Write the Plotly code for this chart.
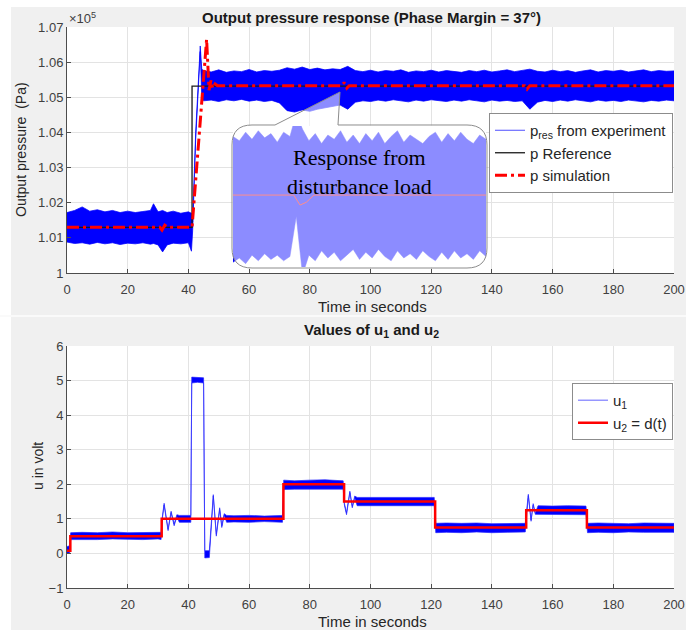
import plotly.graph_objects as go

# ---------------- data: top panel (pressure, in units of 1e5 Pa) ----------------
time_ticks = [0, 20, 40, 60, 80, 100, 120, 140, 160, 180, 200]
p_ticks = [1.00, 1.01, 1.02, 1.03, 1.04, 1.05, 1.06, 1.07]
p_tick_labels = ["1", "1.01", "1.02", "1.03", "1.04", "1.05", "1.06", "1.07"]

# experimental pressure: upper / lower envelope of the noisy band
pexp_t = [0, 2.5, 5, 7.5, 10, 12.5, 15, 17.5, 20, 22.5,
          25, 27.5, 28.5, 30, 31.5, 33, 35, 37.5, 40, 41.0,
          41.4, 42.4, 43.9, 44.4,
          45, 47.5, 50, 52.5, 55, 57.5, 60, 62.5, 65, 67.5,
          70, 72.5, 75, 77.5, 80, 82.5, 85, 87.5, 90, 92.5,
          95, 97.5, 100, 102.5, 105, 107.5, 110, 112.5, 115, 117.5,
          120, 122.5, 125, 127.5, 130, 132.5, 135, 137.5, 140, 142.5,
          145, 147.5, 150, 152.5, 155, 157.5, 160, 162.5, 165, 167.5,
          170, 172.5, 175, 177.5, 180, 182.5, 185, 187.5, 190, 192.5,
          195, 197.5, 200]
pexp_hi = [1.0172, 1.0178, 1.0188, 1.0176, 1.0180, 1.0174, 1.0178, 1.0172, 1.0176, 1.0172,
           1.0175, 1.0178, 1.0197, 1.0174, 1.0178, 1.0172, 1.0176, 1.0170, 1.0174, 1.0170,
           1.0145, 1.0400, 1.0646, 1.0580,
           1.0576, 1.0572, 1.0578, 1.0571, 1.0575, 1.0573, 1.0579, 1.0572, 1.0576, 1.0574,
           1.0577, 1.0584, 1.0580, 1.0586, 1.0579, 1.0583, 1.0578, 1.0581, 1.0579, 1.0588,
           1.0576, 1.0573, 1.0577, 1.0572, 1.0576, 1.0574, 1.0578, 1.0571, 1.0575, 1.0573,
           1.0577, 1.0572, 1.0576, 1.0574, 1.0571, 1.0576, 1.0573, 1.0577, 1.0572, 1.0575,
           1.0578, 1.0573, 1.0576, 1.0580, 1.0574, 1.0572, 1.0577, 1.0573, 1.0576, 1.0571,
           1.0575, 1.0578, 1.0572, 1.0576, 1.0574, 1.0577, 1.0572, 1.0575, 1.0578, 1.0573,
           1.0576, 1.0574, 1.0575]
pexp_lo = [1.0088, 1.0084, 1.0086, 1.0082, 1.0087, 1.0083, 1.0086, 1.0081, 1.0085, 1.0083,
           1.0086, 1.0082, 1.0084, 1.0080, 1.0060, 1.0080, 1.0085, 1.0083, 1.0086, 1.0062,
           1.0120, 1.0380, 1.0630, 1.0500,
           1.0490, 1.0492, 1.0488, 1.0493, 1.0490, 1.0494, 1.0489, 1.0492, 1.0488, 1.0491,
           1.0484, 1.0462, 1.0458, 1.0464, 1.0460, 1.0466, 1.0472, 1.0474, 1.0478, 1.0466,
           1.0486, 1.0490, 1.0488, 1.0492, 1.0489, 1.0493, 1.0490, 1.0487, 1.0492, 1.0489,
           1.0493, 1.0490, 1.0488, 1.0492, 1.0489, 1.0493, 1.0490, 1.0487, 1.0492, 1.0489,
           1.0491, 1.0488, 1.0490, 1.0466, 1.0486, 1.0491, 1.0488, 1.0492, 1.0489, 1.0493,
           1.0490, 1.0487, 1.0492, 1.0489, 1.0491, 1.0488, 1.0492, 1.0490, 1.0487, 1.0491,
           1.0489, 1.0492, 1.0490]

pref_t = [0, 41.2, 41.2, 200]
pref_v = [1.0130, 1.0130, 1.0532, 1.0532]

psim_t = [0, 30.6, 31.3, 32.2, 33.2, 41.2, 46.0, 46.8, 47.4, 48.0,
          48.8, 49.6, 90.6, 91.3, 92.2, 93.0, 150.8, 151.6, 152.5, 200]
psim_v = [1.0130, 1.0130, 1.0122, 1.0136, 1.0130, 1.0130, 1.0665, 1.0520, 1.0548, 1.0526,
          1.0538, 1.0533, 1.0533, 1.0542, 1.0526, 1.0533, 1.0533, 1.0523, 1.0533, 1.0533]

# zoomed inset around the disturbance (t = 86 .. 106 s)
inset_t = [86, 86.5, 87, 87.5, 88, 88.5, 89, 89.5, 90, 90.5,
           91, 91.5, 92, 92.5, 93, 93.5, 94, 94.5, 95, 95.5,
           96, 96.5, 97, 97.5, 98, 98.5, 99, 99.5, 100, 100.5,
           101, 101.5, 102, 102.5, 103, 103.5, 104, 104.5, 105, 105.5, 106]
inset_hi = [1.0574, 1.0571, 1.0577, 1.0572, 1.0578, 1.0573, 1.0576, 1.0570, 1.0577, 1.0574,
            1.0590, 1.0579, 1.0571, 1.0576, 1.0569, 1.0575, 1.0572, 1.0578, 1.0570, 1.0575,
            1.0569, 1.0576, 1.0571, 1.0577, 1.0569, 1.0574, 1.0578, 1.0570, 1.0575, 1.0572,
            1.0569, 1.0574, 1.0577, 1.0570, 1.0576, 1.0571, 1.0577, 1.0572, 1.0569, 1.0575, 1.0572]
inset_lo = [1.0486, 1.0489, 1.0485, 1.0491, 1.0487, 1.0492, 1.0488, 1.0491, 1.0487, 1.0490,
            1.0518, 1.0477, 1.0491, 1.0487, 1.0494, 1.0489, 1.0493, 1.0487, 1.0491, 1.0495,
            1.0488, 1.0493, 1.0489, 1.0495, 1.0490, 1.0487, 1.0494, 1.0489, 1.0492, 1.0488,
            1.0494, 1.0490, 1.0487, 1.0493, 1.0488, 1.0494, 1.0489, 1.0492, 1.0488, 1.0494, 1.0490]
inset_sim_t = [86, 90.8, 91.3, 91.8, 92.4, 106]
inset_sim_v = [1.0533, 1.0533, 1.0526, 1.0528, 1.0533, 1.0533]

# ---------------- data: bottom panel (inputs, volt) ----------------
u_ticks = [-1, 0, 1, 2, 3, 4, 5, 6]

u1_t = [0, 0.9, 1.2, 5, 10, 15, 20, 25, 30, 31.0,
        31.4, 32.0, 33.3, 34.3, 35.3, 36.2, 37.0, 39, 40.8, 41.1,
        43, 45.0, 45.4, 46.9, 48.2, 49.2, 50.3, 51.0, 51.8, 52.6,
        55, 60, 65, 71.0, 71.4, 75, 80, 85, 91.0, 91.4,
        92.1, 93.2, 94.0, 94.8, 95.6, 100, 105, 110, 115, 121.0,
        121.5, 125, 130, 135, 140, 145, 151.0, 151.4, 152.0, 152.9,
        153.6, 154.3, 155.2, 160, 165, 171.0, 171.5, 175, 180, 185,
        190, 195, 200]
u1_hi = [0.20, 0.22, 0.60, 0.61, 0.60, 0.62, 0.60, 0.61, 0.60, 0.61,
         1.05, 1.45, 0.70, 1.22, 0.85, 1.12, 1.10, 1.09, 1.10, 5.10,
         5.08, 5.08, 0.08, 0.08, 1.70, 0.55, 1.32, 0.80, 1.15, 1.10,
         1.09, 1.10, 1.08, 1.10, 2.12, 2.10, 2.12, 2.13, 2.10, 1.45,
         1.17, 1.80, 1.36, 1.66, 1.62, 1.62, 1.63, 1.61, 1.62, 1.62,
         0.87, 0.88, 0.87, 0.88, 0.86, 0.87, 0.87, 1.20, 1.71, 0.97,
         1.44, 1.17, 1.38, 1.37, 1.38, 1.37, 0.87, 0.88, 0.87, 0.86,
         0.88, 0.87, 0.87]
u1_lo = [0.00, 0.02, 0.40, 0.41, 0.40, 0.42, 0.41, 0.40, 0.42, 0.40,
         1.00, 1.40, 0.66, 1.18, 0.80, 1.06, 0.90, 0.91, 0.90, 4.93,
         4.95, 4.93, -0.13, -0.12, 1.66, 0.50, 1.27, 0.75, 1.10, 0.90,
         0.91, 0.90, 0.92, 0.90, 1.85, 1.86, 1.87, 1.86, 1.86, 1.40,
         1.12, 1.76, 1.32, 1.61, 1.38, 1.37, 1.38, 1.37, 1.38, 1.38,
         0.60, 0.61, 0.60, 0.62, 0.60, 0.61, 0.62, 1.15, 1.67, 0.93,
         1.40, 1.13, 1.12, 1.11, 1.12, 1.12, 0.60, 0.61, 0.60, 0.62,
         0.61, 0.60, 0.61]

u2_t = [0, 1.1, 1.1, 31.2, 31.2, 71.3, 71.3, 91.3, 91.3, 121.3, 121.3, 151.3, 151.3, 171.3, 171.3, 200]
u2_v = [0.08, 0.08, 0.5, 0.5, 1.0, 1.0, 2.0, 2.0, 1.5, 1.5, 0.75, 0.75, 1.25, 1.25, 0.75, 0.75]

# ---------------- figure ----------------
W, H = 686, 630
def fx(x):
    return x / W
def fy(y):
    return 1 - y / H

FONT = "Liberation Sans, Arial, sans-serif"
TICK_C = "#404040"
AX_C = "#4d4d4d"
GRID_C = "#e3e3e3"
BLUE = "rgb(0,0,255)"

def band(t, hi, lo):
    return list(t) + list(t)[::-1], list(hi) + list(lo)[::-1]

fig = go.Figure()

# top panel
fig.add_trace(go.Scatter(x=[None], y=[None], mode="lines", name="p<sub>res</sub> from experiment",
                         line=dict(color="rgba(60,60,255,0.9)", width=1), legend="legend",
                         xaxis="x", yaxis="y"))
bx, by = band(pexp_t, pexp_hi, pexp_lo)
fig.add_trace(go.Scatter(x=bx, y=by, mode="lines", fill="toself", fillcolor=BLUE,
                         line=dict(color="rgba(0,0,255,0.75)", width=1), showlegend=False,
                         hoverinfo="skip", xaxis="x", yaxis="y"))
fig.add_trace(go.Scatter(x=pref_t, y=pref_v, mode="lines", name="p Reference",
                         line=dict(color="#1a1a1a", width=1.3), legend="legend",
                         xaxis="x", yaxis="y"))
fig.add_trace(go.Scatter(x=psim_t, y=psim_v, mode="lines", name="p simulation",
                         line=dict(color="#ff0000", width=3, dash="12px,4px,3px,4px"),
                         legend="legend", xaxis="x", yaxis="y"))

# bottom panel
fig.add_trace(go.Scatter(x=[None], y=[None], mode="lines", name="u<sub>1</sub>",
                         line=dict(color="rgb(150,150,255)", width=1.5), legend="legend2",
                         xaxis="x2", yaxis="y2"))
ux, uy = band(u1_t, u1_hi, u1_lo)
fig.add_trace(go.Scatter(x=ux, y=uy, mode="lines", fill="toself", fillcolor=BLUE,
                         line=dict(color="rgba(40,40,255,0.7)", width=1), showlegend=False,
                         hoverinfo="skip", xaxis="x2", yaxis="y2"))
fig.add_trace(go.Scatter(x=u2_t, y=u2_v, mode="lines", name="u<sub>2</sub> = d(t)",
                         line=dict(color="#ff0000", width=2.5), legend="legend2",
                         xaxis="x2", yaxis="y2"))

# inset (zoomed disturbance response)
ix, iy = band(inset_t, inset_hi, inset_lo)
fig.add_trace(go.Scatter(x=ix, y=iy, mode="lines", fill="toself", fillcolor=BLUE,
                         line=dict(color="rgba(0,0,255,0.6)", width=0.8), showlegend=False,
                         hoverinfo="skip", xaxis="x3", yaxis="y3"))
fig.add_trace(go.Scatter(x=inset_sim_t, y=inset_sim_v, mode="lines", showlegend=False,
                         line=dict(color="#ff0000", width=1), hoverinfo="skip",
                         xaxis="x3", yaxis="y3"))

common_x = dict(range=[0, 200], tickvals=time_ticks, showgrid=True, gridcolor=GRID_C,
                gridwidth=1, zeroline=False, showline=True, linecolor=AX_C, linewidth=1,
                ticks="inside", ticklen=4, tickcolor=AX_C, mirror=False,
                tickfont=dict(family=FONT, size=13, color=TICK_C), automargin=False,
                ticklabelstandoff=4)
common_y = dict(showgrid=True, gridcolor=GRID_C, gridwidth=1, zeroline=False, showline=True,
                linecolor=AX_C, linewidth=1, ticks="inside", ticklen=4, tickcolor=AX_C,
                mirror=False, tickfont=dict(family=FONT, size=13, color=TICK_C),
                automargin=False)

fig.update_layout(
    width=W, height=H, autosize=False,
    margin=dict(l=0, r=0, t=0, b=0),
    paper_bgcolor="#f0f0f0", plot_bgcolor="#ffffff",
    xaxis=dict(domain=[fx(67), fx(674)], anchor="y", **common_x),
    yaxis=dict(domain=[fy(273), fy(27)], anchor="x", range=[1.0, 1.07],
               tickvals=p_ticks, ticktext=p_tick_labels, **common_y),
    xaxis2=dict(domain=[fx(67), fx(674)], anchor="y2", **common_x),
    yaxis2=dict(domain=[fy(588), fy(346)], anchor="x2", range=[-1, 6],
                tickvals=u_ticks, **common_y),
    xaxis3=dict(domain=[fx(233), fx(486)], anchor="y3", range=[86, 106], visible=False),
    yaxis3=dict(domain=[fy(267), fy(126)], anchor="x3", range=[1.04827, 1.05813], visible=False),
    legend=dict(x=fx(673), xanchor="right", y=fy(113), yanchor="top",
                bgcolor="#ffffff", bordercolor="#8c8c8c", borderwidth=1,
                font=dict(family=FONT, size=15, color="#262626"), itemwidth=30,
                tracegroupgap=0),
    legend2=dict(x=fx(673), xanchor="right", y=fy(383), yanchor="top",
                 bgcolor="#ffffff", bordercolor="#8c8c8c", borderwidth=1,
                 font=dict(family=FONT, size=15, color="#262626"), itemwidth=30,
                 tracegroupgap=0),
    showlegend=True,
)

def P(x, y):
    return f"{fx(x):.5f},{fy(y):.5f}"

callout = ("M " + P(275, 125) + " L " + P(340, 92) + " L " + P(338, 125) +
           " L " + P(467, 125) + " Q " + P(487, 125) + " " + P(487, 145) +
           " L " + P(487, 248) + " Q " + P(487, 268) + " " + P(467, 268) +
           " L " + P(252, 268) + " Q " + P(232, 268) + " " + P(232, 248) +
           " L " + P(232, 145) + " Q " + P(232, 125) + " " + P(252, 125) + " Z")

fig.update_layout(shapes=[
    dict(type="rect", xref="paper", yref="paper", x0=0, x1=fx(11), y0=0, y1=1,
         fillcolor="#ffffff", line=dict(width=0), layer="below"),
    dict(type="rect", xref="paper", yref="paper", x0=0, x1=1, y0=fy(7), y1=1,
         fillcolor="#ffffff", line=dict(width=0), layer="below"),
    dict(type="rect", xref="paper", yref="paper", x0=0, x1=1, y0=fy(317), y1=fy(315),
         fillcolor="#fafafa", line=dict(width=0), layer="below"),
    dict(type="path", xref="paper", yref="paper", path=callout,
         fillcolor="rgba(255,255,255,0.55)", line=dict(color="#8c8c8c", width=1), layer="above"),
])

def note(text, x, y, size, color="#262626", angle=0, family=FONT, xanchor="center"):
    return dict(text=text, x=fx(x), y=fy(y), xref="paper", yref="paper",
                xanchor=xanchor, yanchor="middle", textangle=angle, showarrow=False,
                font=dict(family=family, size=size, color=color))

fig.update_layout(annotations=[
    note("<b>Output pressure response (Phase Margin = 37°)</b>", 371, 17, 15, "#1a1a1a"),
    note("<b>Values of u<sub>1</sub> and u<sub>2</sub></b>", 371, 330, 15, "#1a1a1a"),
    note("×10<sup>5</sup>", 67, 18, 13, TICK_C, xanchor="left"),
    note("Output pressure &nbsp;(Pa)", 21, 150, 14, angle=-90),
    note("Time in seconds", 372, 306, 15),
    note("u in volt", 38, 466, 14, angle=-90),
    note("Time in seconds", 372, 621, 15),
    note("Response from<br>disturbance load", 360, 172, 22, "#000000",
         family="Liberation Serif, Times New Roman, serif"),
])

fig.write_html("out.html")
